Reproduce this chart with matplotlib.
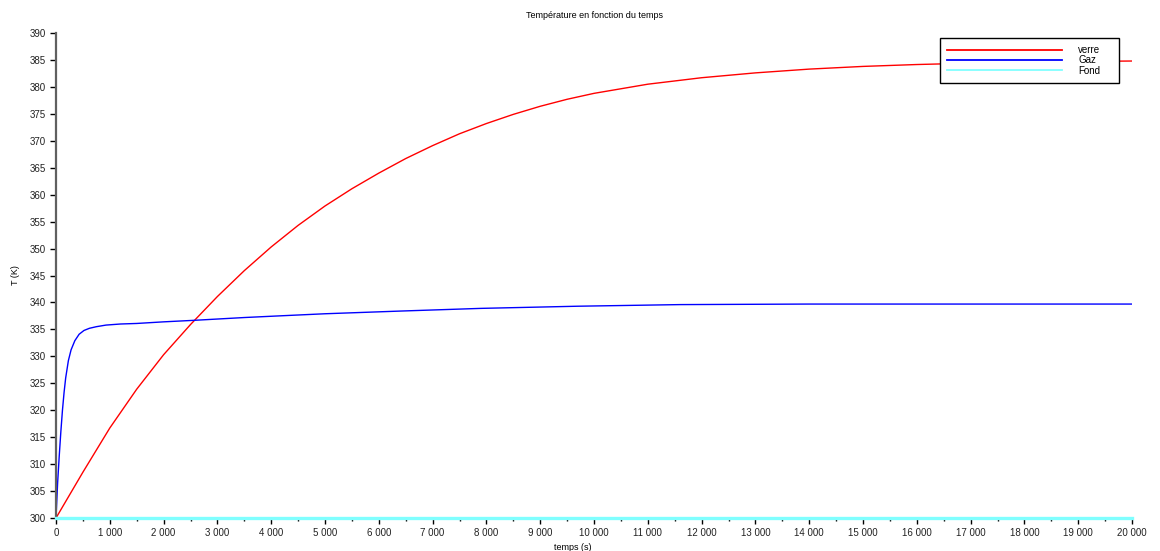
import matplotlib
matplotlib.use("Agg")
import matplotlib.pyplot as plt
from matplotlib.ticker import MultipleLocator, FuncFormatter

plt.rcParams['font.family'] = ['Liberation Sans', 'DejaVu Sans']

# Temperature of the glass (verre)
t_verre = [0, 500, 1000, 1500, 2000, 2500, 3000, 3500, 4000, 4500, 5000, 5500,
           6000, 6500, 7000, 7500, 8000, 8500, 9000, 9500, 10000, 11000, 12000,
           13000, 14000, 15000, 16000, 17000, 18000, 19000, 20000]
T_verre = [300.0, 308.5, 316.7, 323.9, 330.3, 335.9, 341.1, 345.9, 350.3, 354.3,
           357.9, 361.1, 364.0, 366.7, 369.1, 371.3, 373.2, 374.9, 376.4, 377.7,
           378.8, 380.5, 381.7, 382.6, 383.3, 383.8, 384.15, 384.4, 384.6,
           384.72, 384.8]

# Temperature of the gas
t_gaz = [0, 30, 60, 90, 120, 150, 180, 230, 280, 350, 430, 520, 620, 750, 930,
         1200, 1500, 2000, 2600, 3500, 4350, 5000, 6400, 7900, 9700, 11600,
         14000, 17000, 20000]
T_gaz = [300.0, 306.5, 311.5, 316.0, 320.0, 323.3, 326.0, 329.2, 331.2, 332.9,
         334.1, 334.8, 335.2, 335.5, 335.8, 336.0, 336.1, 336.4, 336.7, 337.2,
         337.6, 337.9, 338.4, 338.9, 339.3, 339.6, 339.7, 339.7, 339.7]

# Bottom temperature (fond), constant
t_fond = [0, 20000]
T_fond = [300.0, 300.0]

series_labels = ["verre", "Gaz", "Fond"]

fig = plt.figure(figsize=(11.6, 5.51), dpi=100)
ax = fig.add_axes([56 / 1160, 33 / 551, 1076 / 1160, 485 / 551])

ax.plot(t_verre, T_verre, color='#ff0000', lw=1.0, label=series_labels[0])
ax.plot(t_gaz, T_gaz, color='#0000ff', lw=1.0, label=series_labels[1])
ax.plot(t_fond, T_fond, color='#80ffff', lw=2.4, label=series_labels[2],
        clip_on=False, zorder=5)

ax.set_xlim(0, 20000)
ax.set_ylim(300, 390)

ax.spines['top'].set_visible(False)
ax.spines['right'].set_visible(False)
ax.spines['left'].set_color('#606060')
ax.spines['left'].set_linewidth(1.6)
ax.spines['bottom'].set_color('#606060')
ax.spines['bottom'].set_linewidth(1.2)

ax.xaxis.set_major_locator(MultipleLocator(1000))
ax.xaxis.set_minor_locator(MultipleLocator(500))
ax.yaxis.set_major_locator(MultipleLocator(5))


def thousands(v, pos):
    s = f"{int(round(v)):,}"
    return s.replace(",", " ")


ax.xaxis.set_major_formatter(FuncFormatter(thousands))
ax.tick_params(axis='both', which='major', direction='out', length=4, width=1,
               colors='black', labelsize=7, pad=3)
ax.tick_params(axis='x', which='minor', direction='out', length=2.5, width=1)
for lab in ax.get_xticklabels() + ax.get_yticklabels():
    lab.set_color('#222222')

ax.set_title("Température en fonction du temps", fontsize=6.5, pad=11)
ax.set_xlabel("temps (s)", fontsize=6.5, labelpad=3)
ax.xaxis.set_label_coords(0.4805, -0.052)
ax.set_ylabel("T (K)", fontsize=6.5, labelpad=7)

leg = ax.legend(loc='upper left', bbox_to_anchor=(0.8216, 0.898, 0.1664, 0.092),
                bbox_transform=ax.transAxes, borderaxespad=0, fontsize=7,
                mode='expand', frameon=True, fancybox=False,
                edgecolor='black', framealpha=1, handlelength=11.8,
                handletextpad=1.65, labelspacing=0.02, borderpad=0.75)
leg.get_frame().set_linewidth(1.0)
for line in leg.get_lines():
    line.set_linewidth(1.3)
leg.set_zorder(10)

fig.savefig("out.png", dpi=100, facecolor='white')
